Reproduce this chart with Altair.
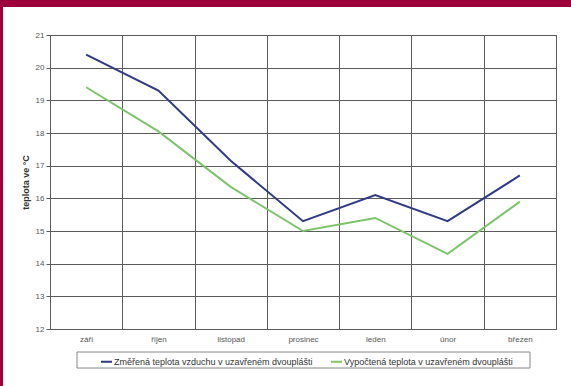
import altair as alt
import pandas as pd

months = ["září", "říjen", "listopad", "prosinec", "leden", "únor", "březen"]
measured = [20.4, 19.3, 17.15, 15.3, 16.1, 15.3, 16.7]
computed = [19.4, 18.05, 16.35, 15.0, 15.4, 14.3, 15.9]
series_names = [
    "Změřená teplota vzduchu v uzavřeném dvouplášti",
    "Vypočtená teplota v uzavřeném dvouplášti",
]
series_colors = ["#2f3a86", "#7cc46a"]
y_ticks = list(range(12, 22))

rows = []
for name, vals in zip(series_names, [measured, computed]):
    for i, (m, v) in enumerate(zip(months, vals)):
        rows.append({"month": m, "series": name, "temp": v, "idx": i})
df = pd.DataFrame(rows)

FONT = "Liberation Sans"
MAROON = "#9c0039"
GRID = "#5c5c5c"

lines = alt.Chart(df).mark_line(strokeWidth=2).encode(
    x=alt.X(
        "month:N",
        sort=months,
        scale=alt.Scale(type="band", paddingInner=0, paddingOuter=0),
        bandPosition=0.5,
        axis=alt.Axis(
            title=None, tickBand="extent", grid=True, ticks=False, domain=False,
            labelAngle=0, labelPadding=6, labelFontSize=8, labelColor="#555555",
            labelFont=FONT, gridColor=GRID, gridWidth=1,
        ),
    ),
    y=alt.Y(
        "temp:Q",
        scale=alt.Scale(domain=[12, 21], nice=False, zero=False),
        axis=alt.Axis(
            values=y_ticks, title="teplota ve °C", titleFont=FONT, titleFontSize=9,
            titleFontWeight="bold", titleColor="#333333", titlePadding=5,
            labelFontSize=8, labelColor="#555555", labelFont=FONT, labelPadding=2,
            tickSize=4, tickColor=GRID, domain=False, gridColor=GRID,
            gridWidth=1,
        ),
    ),
    color=alt.Color(
        "series:N",
        scale=alt.Scale(domain=series_names, range=series_colors),
        legend=alt.Legend(
            title=None, orient="none", legendX=50, legendY=320, direction="horizontal",
            symbolType="stroke", symbolStrokeWidth=2, symbolSize=120,
            labelFont=FONT, labelFontSize=9, labelColor="#333333", labelLimit=400,
            columnPadding=14, padding=0, labelOffset=1,
        ),
    ),
    order=alt.Order("idx:Q"),
)

frame_df = pd.DataFrame({"k": [0]})
legend_box = alt.Chart(frame_df).mark_rect(
    fill="white", stroke="#888888", strokeWidth=1
).encode(x=alt.value(27), x2=alt.value(480), y=alt.value(317), y2=alt.value(333))
top_bar = alt.Chart(frame_df).mark_rect(color=MAROON).encode(
    x=alt.value(-50), x2=alt.value(521), y=alt.value(-35), y2=alt.value(-28)
)
left_bar = alt.Chart(frame_df).mark_rect(color=MAROON).encode(
    x=alt.value(-50), x2=alt.value(-47), y=alt.value(-35), y2=alt.value(351)
)

chart = alt.layer(legend_box, lines, top_bar, left_bar).properties(
    width=506,
    height=294,
    autosize=alt.AutoSizeParams(type="none"),
    padding={"left": 50, "top": 35, "right": 15, "bottom": 57},
    background="white",
).configure_view(stroke=GRID, strokeWidth=1)

chart.save("out.html", embed_options={"renderer": "svg", "actions": False})
